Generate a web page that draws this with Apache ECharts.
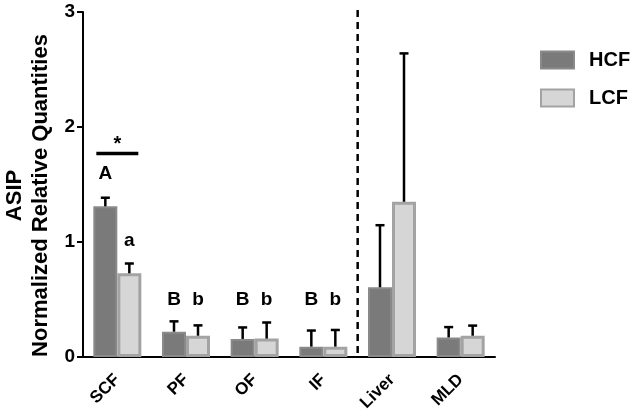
<!DOCTYPE html>
<html>
<head>
    <meta charset="utf-8">
    <title>ASIP</title>
    <script src="https://cdn.jsdelivr.net/npm/echarts@6/dist/echarts.min.js"></script>
</head>
<body style="margin:0">
    <div id="main" style="width: 638px;height:419px;"></div>
    <script type="text/javascript">
        var categories = ['SCF', 'PF', 'OF', 'IF', 'Liver', 'MLD'];
        var hcf = [1.31, 0.22, 0.157, 0.09, 0.606, 0.17];
        var hcfErr = [0.075, 0.09, 0.10, 0.14, 0.54, 0.09];
        var lcf = [0.728, 0.185, 0.16, 0.09, 1.35, 0.185];
        var lcfErr = [0.085, 0.09, 0.14, 0.145, 1.29, 0.088];
        var hcfLetters = ['A', 'B', 'B', 'B', '', ''];
        var lcfLetters = ['a', 'b', 'b', 'b', '', ''];
        var hcfLetterLevel = [1.59, 0.5, 0.5, 0.5, 0, 0];
        var lcfLetterLevel = [1.01, 0.5, 0.5, 0.5, 0, 0];
        var starLevel = 1.77;
        var dividerAfter = 3; // dashed line between IF and Liver

        var font = 'Liberation Sans';
        var barW = 24;
        var myChart = echarts.init(document.getElementById('main'));

        function errData(vals, errs) {
            var out = [];
            for (var i = 0; i < vals.length; i++) {
                out.push([i, vals[i], errs[i]]);
            }
            return out;
        }

        function errRender(offset) {
            return function (params, api) {
                var i = api.value(0);
                var lo = api.coord([i, api.value(1)]);
                var hi = api.coord([i, api.value(1) + api.value(2)]);
                var x = lo[0] + offset;
                var st = {stroke: '#000', lineWidth: 2.5};
                return {
                    type: 'group',
                    children: [
                        {type: 'line', shape: {x1: x, y1: lo[1], x2: x, y2: hi[1]}, style: st},
                        {type: 'line', shape: {x1: x - 4.5, y1: hi[1], x2: x + 4.5, y2: hi[1]}, style: st}
                    ]
                };
            };
        }

        function letterData(letters, levels) {
            var out = [];
            for (var i = 0; i < letters.length; i++) {
                if (letters[i]) out.push([i, levels[i], letters[i]]);
            }
            return out;
        }

        function letterRender(offset) {
            return function (params, api) {
                var p = api.coord([api.value(0), api.value(1)]);
                return {
                    type: 'text',
                    x: p[0] + offset,
                    y: p[1],
                    style: {
                        text: api.value(2),
                        fontFamily: font, fontWeight: 'bold', fontSize: 19,
                        fill: '#000', align: 'center', verticalAlign: 'middle'
                    }
                };
            };
        }

        var option = {
            animation: false,
            grid: {left: 83, right: 143, top: 12, bottom: 62, outerBoundsMode: 'none', containLabel: false},
            legend: {
                orient: 'vertical',
                left: 540, top: 50,
                padding: 0,
                itemWidth: 33, itemHeight: 17, itemGap: 18,
                icon: 'rect',
                data: ['HCF', 'LCF'],
                textStyle: {fontFamily: font, fontWeight: 'bold', fontSize: 20, color: '#000', padding: [0, 0, 0, 10]}
            },
            xAxis: {
                type: 'category',
                data: categories,
                axisLine: {lineStyle: {color: '#000', width: 2}},
                axisTick: {alignWithLabel: true, length: 6, lineStyle: {width: 2}},
                axisLabel: {
                    rotate: 45, margin: 20, interval: 0,
                    align: 'right', verticalAlign: 'middle',
                    fontFamily: font, fontWeight: 'bold', fontSize: 17, color: '#000'
                }
            },
            yAxis: {
                type: 'value',
                min: 0, max: 3, interval: 1,
                name: 'ASIP\nNormalized Relative Quantities',
                nameLocation: 'middle',
                nameRotate: 90,
                nameGap: 28,
                nameTextStyle: {
                    fontFamily: font, fontWeight: 'bold', fontSize: 22, color: '#000',
                    lineHeight: 26, padding: [0, 22, 0, 0]
                },
                axisLine: {show: true, lineStyle: {color: '#000', width: 2}},
                axisTick: {show: true, length: 6, lineStyle: {width: 2}},
                splitLine: {show: false},
                axisLabel: {margin: 8, fontFamily: font, fontWeight: 'bold', fontSize: 19, color: '#000'}
            },
            series: [
                {
                    name: 'HCF', type: 'bar', data: hcf,
                    barWidth: barW, barGap: '0%',
                    itemStyle: {color: '#7a7a7a', borderColor: '#8a8a8a', borderWidth: 2}
                },
                {
                    name: 'LCF', type: 'bar', data: lcf,
                    barWidth: barW,
                    itemStyle: {color: '#d6d6d6', borderColor: '#a3a3a3', borderWidth: 3}
                },
                {type: 'custom', renderItem: errRender(-barW / 2), data: errData(hcf, hcfErr), z: 5},
                {type: 'custom', renderItem: errRender(barW / 2), data: errData(lcf, lcfErr), z: 5},
                {type: 'custom', renderItem: letterRender(-barW / 2), data: letterData(hcfLetters, hcfLetterLevel)},
                {type: 'custom', renderItem: letterRender(barW / 2), data: letterData(lcfLetters, lcfLetterLevel)},
                {
                    type: 'custom',
                    data: [[dividerAfter, 0]],
                    renderItem: function (params, api) {
                        var p = api.coord([api.value(0), 0]);
                        var x = p[0] + api.size([1, 0])[0] / 2;
                        var top = api.coord([api.value(0), 3])[1];
                        return {
                            type: 'line',
                            shape: {x1: x, y1: top - 2, x2: x, y2: p[1]},
                            style: {stroke: '#000', lineWidth: 2.5, lineDash: [7, 5]}
                        };
                    }
                },
                {
                    type: 'custom',
                    data: [[0, starLevel]],
                    renderItem: function (params, api) {
                        var p = api.coord([api.value(0), api.value(1)]);
                        return {
                            type: 'group',
                            children: [
                                {type: 'line', shape: {x1: p[0] - 21, y1: p[1], x2: p[0] + 21, y2: p[1]},
                                    style: {stroke: '#000', lineWidth: 3.5}},
                                {type: 'text', x: p[0], y: p[1] + 1,
                                    style: {text: '*', fontFamily: font, fontWeight: 'bold', fontSize: 20,
                                        fill: '#000', align: 'center', verticalAlign: 'bottom'}}
                            ]
                        };
                    }
                }
            ]
        };
        myChart.setOption(option);
    </script>
</body>
</html>
